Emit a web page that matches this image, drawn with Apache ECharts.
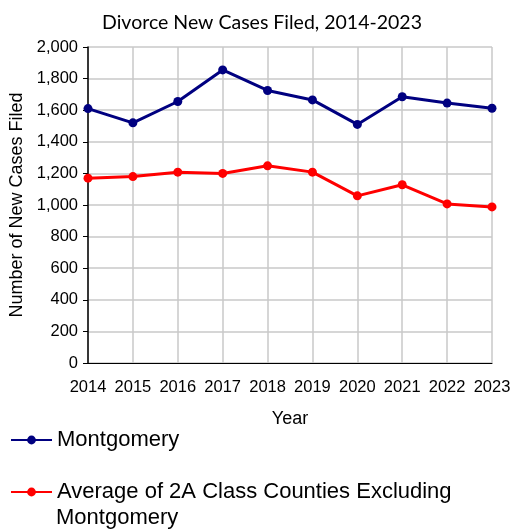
<!DOCTYPE html>
<html>
<head>
<meta charset="utf-8">
<script src="https://cdn.jsdelivr.net/npm/echarts@6/dist/echarts.min.js"></script>
<style>
  html, body { margin: 0; padding: 0; background: #fff; }
  #chart { width: 513px; height: 532px; }
</style>
</head>
<body>
<div id="chart"></div>
<script>
// data
const years = ['2014','2015','2016','2017','2018','2019','2020','2021','2022','2023'];
const montgomery = [1610, 1520, 1655, 1855, 1725, 1665, 1510, 1685, 1645, 1612];
const classAvg = [1170, 1180, 1208, 1200, 1248, 1208, 1058, 1128, 1007, 988];
const seriesNames = ['Montgomery', 'Average of 2A Class Counties Excluding Montgomery'];

const font = 'Liberation Sans, Arial, sans-serif';
const chart = echarts.init(document.getElementById('chart'));

chart.setOption({
  animation: false,
  title: {
    text: 'Divorce New Cases Filed, 2014-2023',
    left: 257, top: 8, textAlign: 'center',
    textStyle: { fontFamily: 'Lato, sans-serif', fontSize: 19.5, fontWeight: 'normal', color: '#000' }
  },
  legend: [
    {
      left: 10, top: 429, padding: 0,
      itemWidth: 41, itemHeight: 11,
      textStyle: { fontFamily: font, fontSize: 22, color: '#000' },
      data: [seriesNames[0]]
    },
    {
      left: 10, top: 481, padding: 0,
      itemWidth: 41, itemHeight: 11,
      formatter: function () { return 'Average of 2A Class Counties Excluding'; },
      textStyle: { fontFamily: font, fontSize: 22, color: '#000' },
      data: [seriesNames[1]]
    }
  ],
  // second line of the wrapped legend label
  graphic: [{
    type: 'text', left: 56, top: 507,
    style: { text: 'Montgomery', font: '22px Liberation Sans, Arial, sans-serif', fill: '#000' }
  }],
  grid: { left: 88, right: 21, top: 47, bottom: 169, outerBoundsMode: 'none', containLabel: false },
  xAxis: {
    type: 'category', data: years, boundaryGap: false,
    name: 'Year', nameLocation: 'middle', nameGap: 47,
    nameTextStyle: { fontFamily: font, fontSize: 18, color: '#000' },
    axisLine: { lineStyle: { color: '#000', width: 1 } },
    axisTick: { show: false },
    axisLabel: { fontFamily: font, fontSize: 16.5, color: '#000', margin: 16, interval: 0, hideOverlap: false },
    splitLine: { show: true, interval: 0, lineStyle: { color: '#c8c8c8', width: 1.5 } }
  },
  yAxis: {
    type: 'value', min: 0, max: 2000, interval: 200,
    name: 'Number of New Cases Filed', nameLocation: 'middle', nameGap: 58,
    nameTextStyle: { fontFamily: font, fontSize: 18, color: '#000' },
    axisLine: { show: true, lineStyle: { color: '#000', width: 1.5 } },
    axisTick: { show: true, length: 5, lineStyle: { color: '#000' } },
    axisLabel: {
      fontFamily: font, fontSize: 16.5, color: '#000', margin: 10,
      formatter: function (v) { return v.toLocaleString('en-US'); }
    },
    splitLine: { lineStyle: { color: '#c8c8c8', width: 1.5 } }
  },
  series: [
    {
      name: seriesNames[0], type: 'line', data: montgomery,
      symbol: 'circle', symbolSize: 9,
      lineStyle: { color: '#000080', width: 3 },
      itemStyle: { color: '#000080' }
    },
    {
      name: seriesNames[1], type: 'line', data: classAvg,
      symbol: 'circle', symbolSize: 9,
      lineStyle: { color: '#ff0000', width: 3 },
      itemStyle: { color: '#ff0000' }
    }
  ]
});
</script>
</body>
</html>
